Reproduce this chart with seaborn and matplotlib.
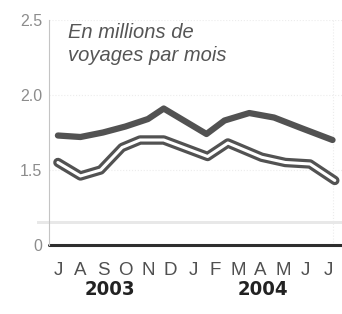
import matplotlib
matplotlib.use("Agg")
import matplotlib.pyplot as plt
import matplotlib.patheffects as pe
from matplotlib import font_manager
import seaborn as sns

sns.set_theme(style="white")
plt.rcParams["font.family"] = ["Liberation Sans", "DejaVu Sans"]

# ----- data (millions de voyages par mois) -----
months = ["J", "A", "S", "O", "N", "D", "J", "F", "M", "A", "M", "J", "J"]
years = ["2003", "2004"]
year_pos = [2.3, 9.1]

# month index (0 = juillet 2003)
top_x = [0, 1, 2, 3, 4, 4.7, 6.6, 7.4, 8.5, 9.6, 10.8, 12.2]
top_y = [1.73, 1.72, 1.75, 1.79, 1.84, 1.91, 1.74, 1.83, 1.88, 1.85, 1.78, 1.70]

low_x = [0, 1, 1.9, 2.85, 3.65, 4.7, 6.65, 7.55, 9.05, 10.1, 11.2, 12.3]
low_y = [1.55, 1.46, 1.50, 1.65, 1.70, 1.70, 1.59, 1.68, 1.585, 1.55, 1.54, 1.43]

ytick_vals = [1.0, 1.5, 2.0, 2.5]   # 1.0 stands in for the broken "0"
ytick_labels = ["0", "1.5", "2.0", "2.5"]

# narrow bold face for the years if available
installed = {f.name for f in font_manager.fontManager.ttflist}
if "Liberation Sans Narrow" in installed:
    year_font = dict(family="Liberation Sans Narrow", fontsize=16)
else:
    year_font = dict(family="DejaVu Sans", fontstretch="condensed", fontsize=14.5)

# ----- figure -----
fig = plt.figure(figsize=(3.42, 3.14), dpi=100)
ax = fig.add_axes([0.143, 0.22, 0.857, 0.716])

line_col = "#525252"

for v in ytick_vals[1:]:
    ax.axhline(v, color="#ececec", lw=0.8, ls=":", zorder=0)
ax.axvline(12.2, color="#ececec", lw=0.8, ls=":", zorder=0)

sns.lineplot(x=top_x, y=top_y, ax=ax, color=line_col, lw=4.5,
             solid_capstyle="round", solid_joinstyle="round")
sns.lineplot(x=low_x, y=low_y, ax=ax, color="white", lw=2.2,
             solid_capstyle="round", solid_joinstyle="round",
             path_effects=[pe.Stroke(linewidth=6.8, foreground=line_col), pe.Normal()])

# axis break band + baseline
band = ax.axhspan(1.137, 1.158, xmin=-0.04, xmax=1, color="#e8e8e8", lw=0)
band.set_clip_on(False)
ax.axhline(1.0, color="#2e2e2e", lw=2.2, clip_on=False)

ax.set_xlim(-0.4, 12.62)
ax.set_ylim(1.0, 2.5)
ax.set_yticks(ytick_vals)
ax.set_yticklabels(ytick_labels)
ax.set_xticks(range(len(months)))
ax.set_xticklabels(months)

for s in ["top", "right", "bottom"]:
    ax.spines[s].set_visible(False)
ax.spines["left"].set_color("#c4c4c4")
ax.spines["left"].set_linewidth(0.8)

ax.tick_params(axis="y", length=0, pad=5, labelsize=11.5, labelcolor="#8c8c8c")
ax.tick_params(axis="x", length=0, pad=12, labelsize=13.5, labelcolor="#505050")

for pos, yr in zip(year_pos, years):
    ax.text(pos, -0.2, yr, transform=ax.get_xaxis_transform(), ha="center", va="center",
            fontweight="bold", color="#222222", **year_font)

ax.text(0.065, 0.985, "En millions de\nvoyages par mois", transform=ax.transAxes,
        va="top", ha="left", style="italic", fontsize=14.5, color="#555555", linespacing=1.25)

fig.savefig("out.png", dpi=100)
